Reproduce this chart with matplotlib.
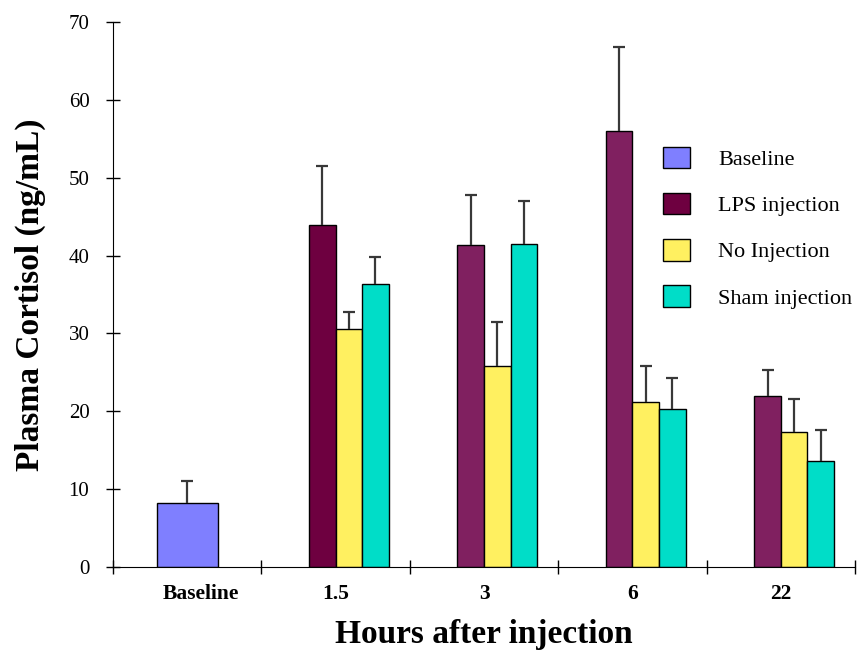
import numpy as np
import matplotlib.pyplot as plt
from matplotlib.patches import Patch

# Valeurs
groups = ['Baseline', '1.5', '3', '6', '22']
baseline_mean = [8.2]
baseline_err = [2.8]
lps_mean = [43.9, 41.3, 56.0, 21.9]
lps_err = [7.6, 6.5, 10.8, 3.4]
noinj_mean = [30.6, 25.8, 21.15, 17.4]
noinj_err = [2.15, 5.7, 4.7, 4.2]
sham_mean = [36.3, 41.45, 20.3, 13.6]
sham_err = [3.5, 5.6, 4.0, 3.95]

col_base = '#7F7FFF'
col_lps = ['#6E0040', '#802060', '#802060', '#802060']
col_lps_leg = '#6E0040'
col_no = '#FFF060'
col_sham = '#00DDC8'

plt.rcParams['font.family'] = ['Liberation Serif', 'DejaVu Serif']

fig = plt.figure(figsize=(8.57, 6.56), dpi=100)
ax = fig.add_axes([113/857, 89/656, 742/857, 545/656])

w = 0.179
x = np.arange(1, len(groups))


def bars_with_err(pos, means, errs, color, width):
    # barres + barre d'erreur vers le haut seulement
    pos = np.asarray(pos, dtype=float)
    means = np.asarray(means)
    errs = np.asarray(errs)
    ax.bar(pos, means, width=width, color=color, edgecolor='black', linewidth=1, zorder=2)
    ax.vlines(pos, means, means + errs, color='#383838', linewidth=1.6, zorder=3)
    ax.plot(pos, means + errs, linestyle='none', marker='_', markersize=9,
            markeredgewidth=1.6, color='#383838', zorder=3)


bars_with_err([0], baseline_mean, baseline_err, col_base, 0.41)
bars_with_err(x - 0.5*w, lps_mean, lps_err, col_lps, w)
bars_with_err(x + 0.5*w, noinj_mean, noinj_err, col_no, w)
bars_with_err(x + 1.5*w, sham_mean, sham_err, col_sham, w)

ax.set_xlim(-0.5, len(groups) - 0.5)
ax.set_ylim(0, 70)
ax.set_yticks(np.arange(0, 71, 10))
ax.tick_params(axis='y', direction='inout', length=10, width=1, labelsize=15, pad=12)

# ticks entre les groupes, etiquettes au centre
ax.set_xticks(np.arange(-0.5, len(groups)), labels=[''] * (len(groups) + 1))
label_pos = [0.09] + list(range(1, len(groups)))
ax.set_xticks(label_pos, labels=groups, minor=True)
ax.tick_params(axis='x', which='major', direction='inout', length=10, width=1)
ax.tick_params(axis='x', which='minor', length=0, labelsize=15.5, pad=12)
for lab in ax.get_xticklabels(minor=True):
    lab.set_fontweight('bold')

for s in ['top', 'right']:
    ax.spines[s].set_visible(False)

ax.set_xlabel('Hours after injection', fontsize=24, fontweight='bold', labelpad=11)
ax.set_ylabel('Plasma Cortisol (ng/mL)', fontsize=24, fontweight='bold', labelpad=16)

handles = [Patch(facecolor=col_base, edgecolor='black', label='Baseline'),
           Patch(facecolor=col_lps_leg, edgecolor='black', label='LPS injection'),
           Patch(facecolor=col_no, edgecolor='black', label='No Injection'),
           Patch(facecolor=col_sham, edgecolor='black', label='Sham injection')]
fig.legend(handles=handles, loc='upper left', bbox_to_anchor=(663/857, 1 - 147/656),
           frameon=False, fontsize=16, handlelength=1.2, handleheight=1.1,
           handletextpad=1.27, labelspacing=1.03, borderpad=0, borderaxespad=0)

fig.savefig('out.png', dpi=100)
